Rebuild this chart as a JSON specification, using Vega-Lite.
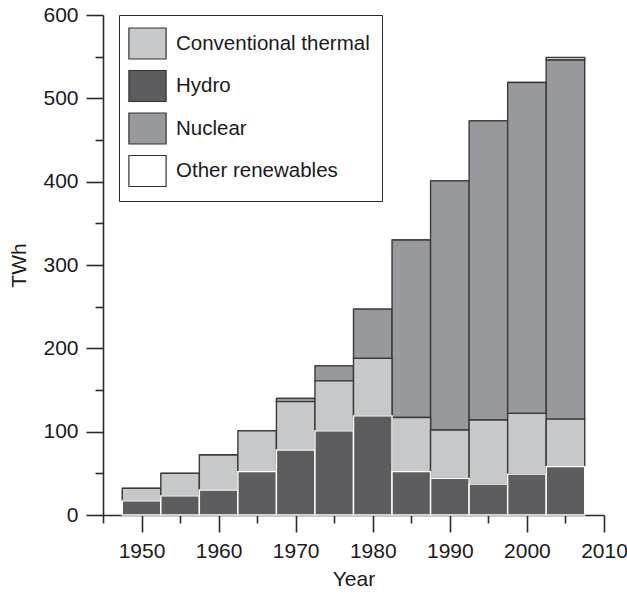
{
  "$schema": "https://vega.github.io/schema/vega-lite/v6.json",
  "autosize": "none",
  "padding": {"left": 103, "top": 15, "right": 23, "bottom": 80},
  "width": 501,
  "height": 500,
  "background": "white",
  "config": {
    "view": {"stroke": null},
    "font": "Liberation Sans",
    "axis": {
      "grid": false,
      "domainColor": "#2a2a2a",
      "domainWidth": 1.6,
      "tickColor": "#2a2a2a",
      "tickWidth": 1.6,
      "labelColor": "#1a1a1a",
      "labelFontSize": 21,
      "titleFontSize": 21,
      "titleFontWeight": "normal",
      "titleColor": "#1a1a1a",
      "labelFont": "Liberation Sans",
      "titleFont": "Liberation Sans"
    }
  },
  "data": {
    "values": [
      {"year": 1950, "source": "Other renewables", "twh": 0},
      {"year": 1955, "source": "Other renewables", "twh": 0},
      {"year": 1960, "source": "Other renewables", "twh": 0},
      {"year": 1965, "source": "Other renewables", "twh": 0},
      {"year": 1970, "source": "Other renewables", "twh": 0},
      {"year": 1975, "source": "Other renewables", "twh": 0},
      {"year": 1980, "source": "Other renewables", "twh": 0},
      {"year": 1985, "source": "Other renewables", "twh": 0},
      {"year": 1990, "source": "Other renewables", "twh": 0},
      {"year": 1995, "source": "Other renewables", "twh": 0},
      {"year": 2000, "source": "Other renewables", "twh": 0},
      {"year": 2005, "source": "Other renewables", "twh": 3},
      {"year": 1950, "source": "Nuclear", "twh": 0},
      {"year": 1955, "source": "Nuclear", "twh": 0},
      {"year": 1960, "source": "Nuclear", "twh": 0},
      {"year": 1965, "source": "Nuclear", "twh": 0},
      {"year": 1970, "source": "Nuclear", "twh": 4},
      {"year": 1975, "source": "Nuclear", "twh": 18},
      {"year": 1980, "source": "Nuclear", "twh": 59},
      {"year": 1985, "source": "Nuclear", "twh": 213},
      {"year": 1990, "source": "Nuclear", "twh": 299},
      {"year": 1995, "source": "Nuclear", "twh": 359},
      {"year": 2000, "source": "Nuclear", "twh": 397},
      {"year": 2005, "source": "Nuclear", "twh": 431},
      {"year": 1950, "source": "Conventional thermal", "twh": 15},
      {"year": 1955, "source": "Conventional thermal", "twh": 27},
      {"year": 1960, "source": "Conventional thermal", "twh": 42},
      {"year": 1965, "source": "Conventional thermal", "twh": 49},
      {"year": 1970, "source": "Conventional thermal", "twh": 58},
      {"year": 1975, "source": "Conventional thermal", "twh": 60},
      {"year": 1980, "source": "Conventional thermal", "twh": 69},
      {"year": 1985, "source": "Conventional thermal", "twh": 65},
      {"year": 1990, "source": "Conventional thermal", "twh": 58},
      {"year": 1995, "source": "Conventional thermal", "twh": 77},
      {"year": 2000, "source": "Conventional thermal", "twh": 73},
      {"year": 2005, "source": "Conventional thermal", "twh": 57},
      {"year": 1950, "source": "Hydro", "twh": 17},
      {"year": 1955, "source": "Hydro", "twh": 23},
      {"year": 1960, "source": "Hydro", "twh": 30},
      {"year": 1965, "source": "Hydro", "twh": 52},
      {"year": 1970, "source": "Hydro", "twh": 78},
      {"year": 1975, "source": "Hydro", "twh": 101},
      {"year": 1980, "source": "Hydro", "twh": 119},
      {"year": 1985, "source": "Hydro", "twh": 52},
      {"year": 1990, "source": "Hydro", "twh": 44},
      {"year": 1995, "source": "Hydro", "twh": 37},
      {"year": 2000, "source": "Hydro", "twh": 49},
      {"year": 2005, "source": "Hydro", "twh": 58}
    ]
  },
  "transform": [
    {"calculate": "datum.year - 2.5", "as": "start"},
    {"calculate": "datum.year + 2.5", "as": "end"},
    {"calculate": "indexof(['Hydro','Conventional thermal','Nuclear','Other renewables'], datum.source)", "as": "stackOrder"}
  ],
  "mark": {"type": "bar", "strokeWidth": 1.4, "opacity": 1},
  "encoding": {
    "x": {
      "field": "start",
      "type": "quantitative",
      "scale": {"domain": [1945, 2010], "nice": false, "zero": false, "padding": 0},
      "axis": {
        "title": "Year",
        "values": [1945, 1950, 1955, 1960, 1965, 1970, 1975, 1980, 1985, 1990, 1995, 2000, 2005, 2010],
        "format": "d",
        "labelExpr": "datum.value % 10 == 0 ? datum.label : ''",
        "tickSize": {"condition": {"test": "datum.value % 10 != 0", "value": 8}, "value": 17},
        "labelPadding": 8,
        "labelFlush": false,
        "labelOverlap": false,
        "titlePadding": 7
      }
    },
    "x2": {"field": "end"},
    "y": {
      "field": "twh",
      "type": "quantitative",
      "aggregate": "sum",
      "stack": "zero",
      "scale": {"domain": [0, 600], "nice": false, "padding": 0},
      "axis": {
        "title": "TWh",
        "values": [0, 50, 100, 150, 200, 250, 300, 350, 400, 450, 500, 550, 600],
        "labelExpr": "datum.value % 100 == 0 ? datum.label : ''",
        "tickSize": {"condition": {"test": "datum.value % 100 != 0", "value": 8}, "value": 17},
        "labelPadding": 8,
        "labelFlush": false,
        "labelOverlap": false,
        "titlePadding": 13
      }
    },
    "color": {
      "field": "source",
      "type": "nominal",
      "scale": {
        "domain": ["Conventional thermal", "Hydro", "Nuclear", "Other renewables"],
        "range": ["#c7c8ca", "#5d5d5f", "#98999c", "#ffffff"]
      },
      "legend": {
        "title": null,
        "orient": "none",
        "legendX": 16,
        "legendY": 0,
        "strokeColor": "#2a2a2a",
        "fillColor": "white",
        "padding": 12,
        "rowPadding": 5.5,
        "symbolType": "M-1.2,-1H1.2V1H-1.2Z",
        "symbolSize": 961,
        "symbolStrokeColor": "#333333",
        "symbolStrokeWidth": 1.2,
        "symbolOpacity": 1,
        "labelFontSize": 20.5,
        "labelLimit": 400,
        "labelColor": "#1a1a1a",
        "labelOffset": 12,
        "labelFont": "Liberation Sans"
      }
    },
    "order": {"field": "stackOrder", "type": "quantitative"},
    "stroke": {
      "condition": {"test": "datum.source === 'Hydro'", "value": "#ffffff"},
      "value": "#3a3a3a"
    }
  }
}
